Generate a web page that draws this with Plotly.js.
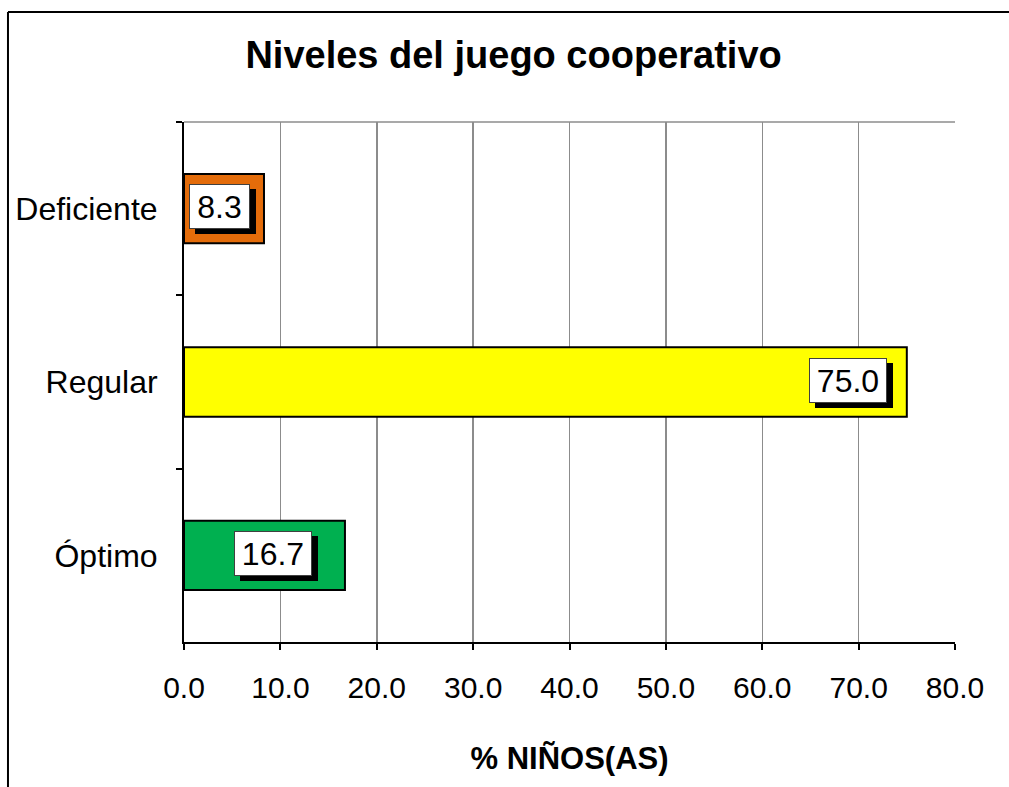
<!DOCTYPE html>
<html>
<head>
<meta charset="utf-8">
<script src="https://cdn.plot.ly/plotly-3.0.1.min.js"></script>
<style>
  html, body { margin: 0; padding: 0; background: #ffffff; }
  #chart { width: 1009px; height: 787px; }
</style>
</head>
<body>
<div id="chart"></div>
<script>
// ---- data ----
const categories = ['Deficiente', 'Regular', 'Óptimo'];
const values = [8.3, 75.0, 16.7];
const labels = ['8.3', '75.0', '16.7'];
const xTickValues = [0, 10, 20, 30, 40, 50, 60, 70, 80];
const xTickLabels = ['0.0', '10.0', '20.0', '30.0', '40.0', '50.0', '60.0', '70.0', '80.0'];

// ---- style ----
const barColors = ['#E46C0A', '#FFFF00', '#00B050'];
const labelShift = [-14, -20, -33];
const labelBoxWidth = [49, 66, 66];
const FONT = 'Liberation Sans, Arial, Helvetica, sans-serif';

const trace = {
  type: 'bar',
  orientation: 'h',
  x: values,
  y: categories,
  width: 0.4,
  marker: { color: barColors, line: { color: '#000000', width: 2 } },
  hoverinfo: 'skip'
};

const annotations = [];
values.forEach((v, i) => {
  // shadow box
  annotations.push({
    x: v, y: categories[i], xref: 'x', yref: 'y',
    text: ' ', showarrow: false,
    xanchor: 'right', yanchor: 'middle',
    xshift: labelShift[i] + 6, yshift: -3,
    width: labelBoxWidth[i], height: 33,
    font: { family: FONT, size: 32, color: '#000000' },
    bgcolor: '#000000', bordercolor: '#000000', borderwidth: 1, borderpad: 5
  });
  // label box
  annotations.push({
    x: v, y: categories[i], xref: 'x', yref: 'y',
    text: labels[i], showarrow: false,
    xanchor: 'right', yanchor: 'middle',
    xshift: labelShift[i], yshift: 2,
    width: labelBoxWidth[i], height: 33, align: 'center',
    font: { family: FONT, size: 32, color: '#000000' },
    bgcolor: '#FFFFFF', bordercolor: '#404040', borderwidth: 1, borderpad: 5
  });
});

const layout = {
  width: 1009, height: 787,
  paper_bgcolor: '#FFFFFF', plot_bgcolor: '#FFFFFF',
  margin: { l: 184, r: 54, t: 122, b: 145, pad: 0 },
  showlegend: false,
  font: { family: FONT, color: '#000000' },
  title: {
    text: '<b>Niveles del juego cooperativo</b>',
    font: { family: FONT, size: 38, color: '#000000' },
    xref: 'container', x: 0.509, xanchor: 'center',
    yref: 'container', y: 0.930, yanchor: 'middle'
  },
  xaxis: {
    range: [0, 80],
    tickmode: 'array', tickvals: xTickValues, ticktext: xTickLabels,
    ticks: 'outside', ticklen: 6, tickwidth: 2, tickcolor: '#000000',
    tickfont: { family: FONT, size: 30, color: '#000000' },
    ticklabelstandoff: 12,
    showline: true, linecolor: '#000000', linewidth: 2,
    showgrid: true, gridcolor: '#8C8C8C', gridwidth: 1.5,
    zeroline: false,
    title: {
      text: '<b>% NIÑOS(AS)</b>',
      font: { family: FONT, size: 31, color: '#000000' },
      standoff: 44
    },
    automargin: false,
    fixedrange: true
  },
  yaxis: {
    type: 'category',
    categoryorder: 'array', categoryarray: categories,
    autorange: 'reversed',
    tickson: 'boundaries',
    ticks: 'outside', ticklen: 6, tickwidth: 2, tickcolor: '#000000',
    tickfont: { family: FONT, size: 32, color: '#000000' },
    ticklabelstandoff: 18,
    showline: true, linecolor: '#000000', linewidth: 2,
    showgrid: false, zeroline: false,
    automargin: false,
    fixedrange: true
  },
  shapes: [
    { type: 'line', xref: 'paper', yref: 'paper', x0: 0, x1: 1, y0: 1, y1: 1,
      line: { color: '#8C8C8C', width: 1.5 }, layer: 'below' },
    { type: 'line', xref: 'paper', yref: 'paper', x0: -0.2283, x1: -0.2283, y0: -0.5, y1: 1.2115,
      line: { color: '#000000', width: 2 } },
    { type: 'line', xref: 'paper', yref: 'paper', x0: -0.2283, x1: 1.2, y0: 1.2115, y1: 1.2115,
      line: { color: '#000000', width: 2 } }
  ],
  annotations: annotations
};

Plotly.newPlot('chart', [trace], layout, { displayModeBar: false, staticPlot: true });
</script>
</body>
</html>
